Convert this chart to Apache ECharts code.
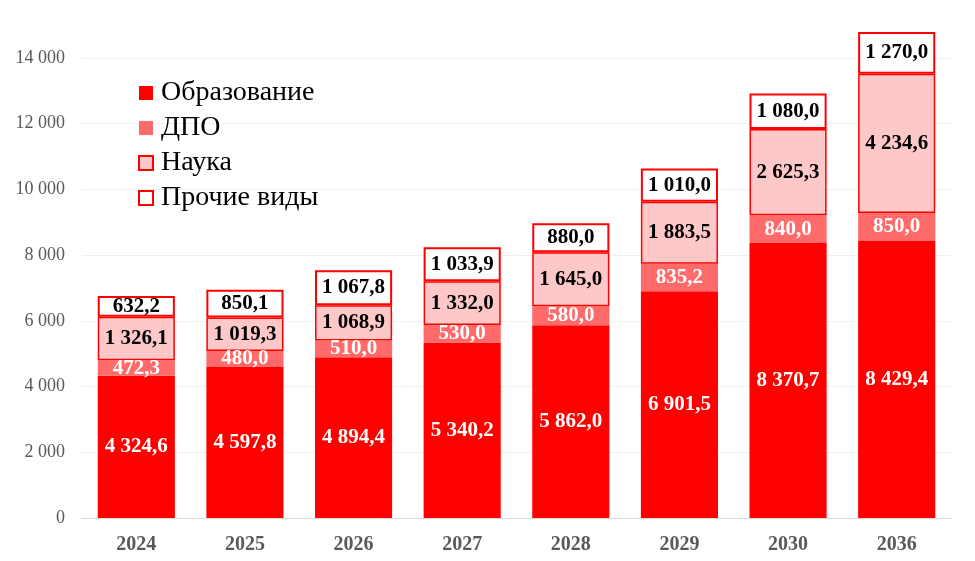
<!DOCTYPE html>
<html><head><meta charset="utf-8">
<script src="https://cdn.jsdelivr.net/npm/echarts@6/dist/echarts.min.js"></script>
<style>html,body{margin:0;padding:0;background:#fff}#c{width:975px;height:561px}</style>
</head><body><div id="c"></div>
<script>
const categories = ['2024','2025','2026','2027','2028','2029','2030','2036'];
const obrazovanie = [4324.6, 4597.8, 4894.4, 5340.2, 5862.0, 6901.5, 8370.7, 8429.4];
const dpo = [472.3, 480.0, 510.0, 530.0, 580.0, 835.2, 840.0, 850.0];
const nauka = [1326.1, 1019.3, 1068.9, 1332.0, 1645.0, 1883.5, 2625.3, 4234.6];
const prochie = [632.2, 850.1, 1067.8, 1033.9, 880.0, 1010.0, 1080.0, 1270.0];

function fmt(v){
  const s = v.toFixed(1).split('.');
  const int = s[0].replace(/\B(?=(\d{3})+(?!\d))/g, ' ');
  return int + ',' + s[1];
}
function fmtAxis(v){
  return String(v).replace(/\B(?=(\d{3})+(?!\d))/g, ' ');
}
const FONT = '"Liberation Serif", "Times New Roman", serif';
function lbl(color){
  return {show:true, position:'inside', formatter:p=>fmt(p.value), color:color,
    fontFamily:FONT, fontWeight:'bold', fontSize:21};
}
const chart = echarts.init(document.getElementById('c'));
chart.setOption({
  animation:false,
  grid:{left:82, right:24, top:25, bottom:43},
  legend:{
    orient:'vertical', left:133, top:74, itemWidth:14, itemHeight:14, itemGap:7,
    icon:'rect',
    textStyle:{fontFamily:FONT, fontSize:28, color:'#000', padding:[0,0,0,3]},
    data:['Образование','ДПО','Наука','Прочие виды']
  },
  xAxis:{
    type:'category', data:categories,
    axisLine:{lineStyle:{color:'#d9d9d9'}}, axisTick:{show:false},
    axisLabel:{fontFamily:FONT, fontWeight:'bold', fontSize:20, color:'#595959', margin:17}
  },
  yAxis:{
    type:'value', min:0, max:15000, interval:2000,
    axisLabel:{fontFamily:FONT, fontSize:18, color:'#595959', margin:17,
      formatter:v=> v%2000===0 ? fmtAxis(v) : '', showMaxLabel:false},
    splitLine:{lineStyle:{color:'#efefef'}, showMaxLine:false}
  },
  series:[
    {name:'Образование', type:'bar', stack:'a', barWidth:'71%', data:obrazovanie,
      itemStyle:{color:'#ff0000'}, label:lbl('#fff')},
    {name:'ДПО', type:'bar', stack:'a', data:dpo,
      itemStyle:{color:'#ff6b6b'}, label:lbl('#fff')},
    {name:'Наука', type:'bar', stack:'a', data:nauka,
      itemStyle:{color:'#ffc8c8', borderColor:'#ff0000', borderWidth:1.5}, label:lbl('#000')},
    {name:'Прочие виды', type:'bar', stack:'a', data:prochie,
      itemStyle:{color:'#ffffff', borderColor:'#ff0000', borderWidth:2}, label:lbl('#000')}
  ]
});
</script></body></html>
